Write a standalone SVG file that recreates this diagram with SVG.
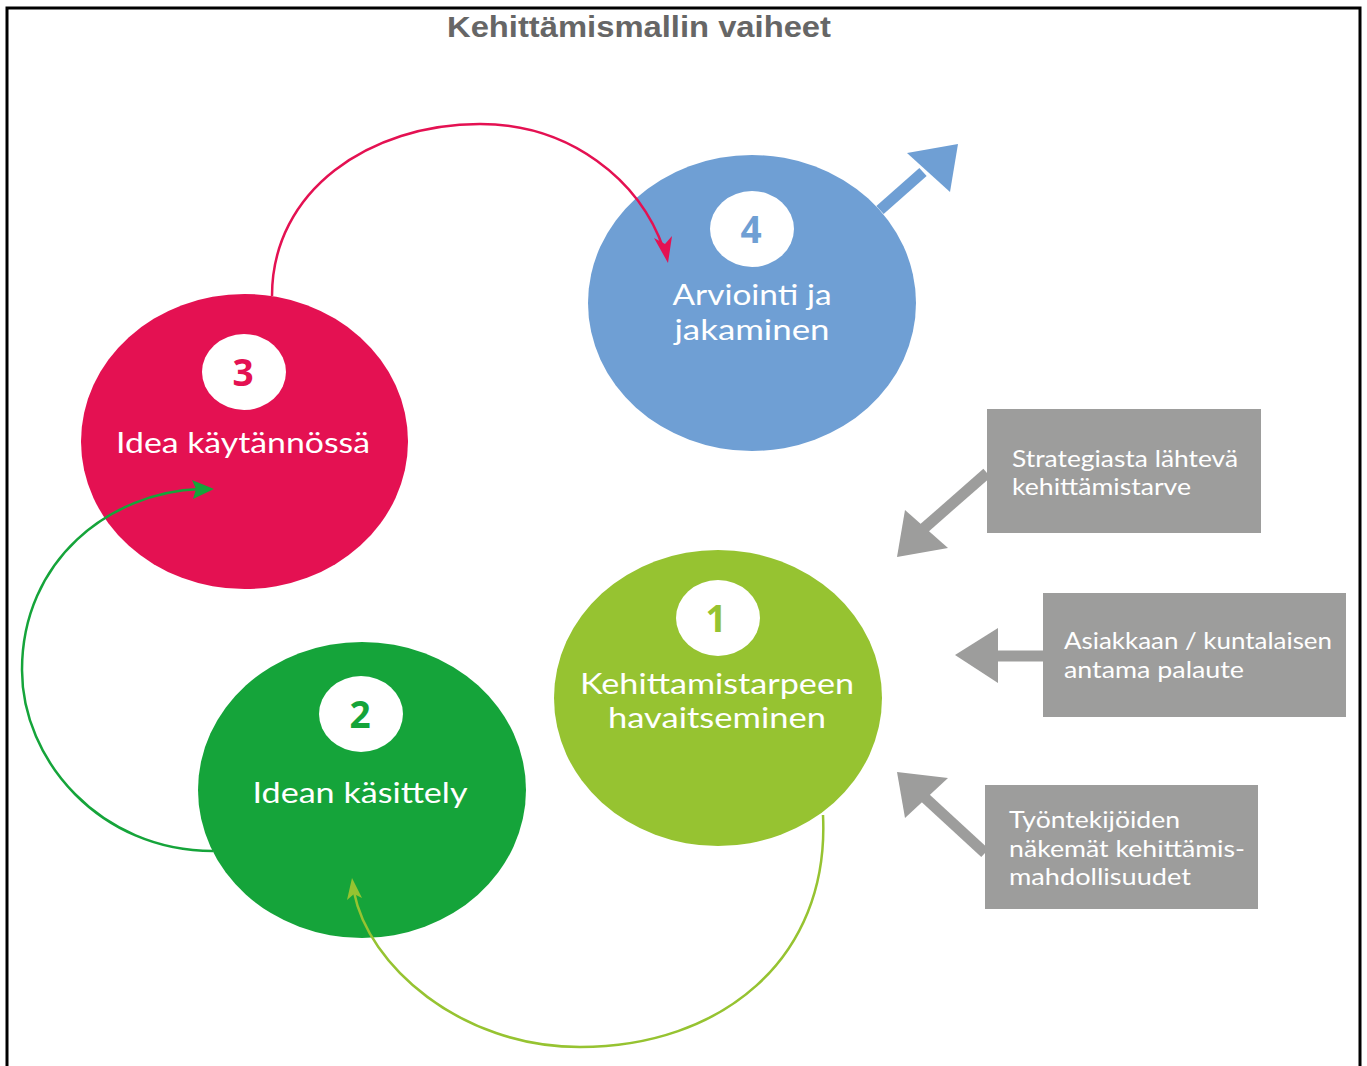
<svg xmlns="http://www.w3.org/2000/svg" width="1367" height="1066" viewBox="0 0 1367 1066">
<style>
.lbl{font-family:Lato,"Open Sans",sans-serif;font-size:29px;fill:#fff;text-anchor:middle}
.num{font-family:"Open Sans","Noto Sans",sans-serif;font-size:37px;font-weight:bold;text-anchor:middle}
.box{fill:#9d9d9c}
.btxt{font-family:Lato,"Open Sans",sans-serif;font-size:23px;fill:#fff}
.garrow{fill:#9d9d9c}
</style>
<rect x="0" y="0" width="1367" height="1066" fill="#fff"/>
<path d="M7,1066 V8 H1360 V1066" fill="none" stroke="#000" stroke-width="3"/>
<text x="639" y="37" font-family="Liberation Sans Narrow,Liberation Sans,sans-serif" font-size="30" font-weight="bold" fill="#666" text-anchor="middle" textLength="384" lengthAdjust="spacingAndGlyphs">Kehittämismallin vaiheet</text>

<g id="node4">
<ellipse cx="752" cy="303" rx="164" ry="148" fill="#6f9fd4"/>
<ellipse cx="752" cy="229" rx="42" ry="38" fill="#fff"/>
<text class="num" x="751" y="243" fill="#6f9fd4">4</text>
<text class="lbl" x="752" y="305" textLength="159" lengthAdjust="spacingAndGlyphs">Arviointi ja</text>
<text class="lbl" x="752" y="340" textLength="155" lengthAdjust="spacingAndGlyphs">jakaminen</text>
</g>
<g id="node3">
<ellipse cx="244.5" cy="441.5" rx="163.5" ry="147.5" fill="#e41152"/>
<ellipse cx="244" cy="372" rx="42" ry="38" fill="#fff"/>
<text class="num" x="243" y="386" fill="#e41152">3</text>
<text class="lbl" x="243" y="453" textLength="254" lengthAdjust="spacingAndGlyphs">Idea käytännössä</text>
</g>
<g id="node2">
<ellipse cx="362" cy="790" rx="164" ry="148" fill="#15a43a"/>
<ellipse cx="361" cy="714" rx="42" ry="38" fill="#fff"/>
<text class="num" x="360" y="728" fill="#15a43a">2</text>
<text class="lbl" x="360" y="803" textLength="215" lengthAdjust="spacingAndGlyphs">Idean käsittely</text>
</g>
<g id="node1">
<ellipse cx="718" cy="698" rx="164" ry="148" fill="#96c331"/>
<ellipse cx="718" cy="618" rx="42" ry="38" fill="#fff"/>
<text class="num" x="716" y="632" fill="#96c331">1</text>
<text class="lbl" x="717" y="694" textLength="274" lengthAdjust="spacingAndGlyphs">Kehittamistarpeen</text>
<text class="lbl" x="717" y="728" textLength="218" lengthAdjust="spacingAndGlyphs">havaitseminen</text>
</g>

<g id="box-strategia">
<rect class="box" x="987" y="409" width="274" height="124"/>
<text class="btxt" x="1012" y="467" textLength="226" lengthAdjust="spacingAndGlyphs">Strategiasta lähtevä</text>
<text class="btxt" x="1012" y="495" textLength="179" lengthAdjust="spacingAndGlyphs">kehittämistarve</text>
</g>
<g id="box-asiakas">
<rect class="box" x="1043" y="593" width="303" height="124"/>
<text class="btxt" x="1064" y="649" textLength="268" lengthAdjust="spacingAndGlyphs">Asiakkaan / kuntalaisen</text>
<text class="btxt" x="1064" y="678" textLength="180" lengthAdjust="spacingAndGlyphs">antama palaute</text>
</g>
<g id="box-tyontekijat">
<rect class="box" x="985" y="785" width="273" height="124"/>
<text class="btxt" x="1009" y="828" textLength="171" lengthAdjust="spacingAndGlyphs">Työntekijöiden</text>
<text class="btxt" x="1009" y="857" textLength="236" lengthAdjust="spacingAndGlyphs">näkemät kehittämis-</text>
<text class="btxt" x="1009" y="885" textLength="182" lengthAdjust="spacingAndGlyphs">mahdollisuudet</text>
</g>

<g id="connectors">
<path d="M272,296 C272,190 370,124 480,124 C570,124 640,180 664,250" fill="none" stroke="#e41152" stroke-width="2.5"/>
<path d="M668,263 L654,238 L665,244 L672,236 Z" fill="#e41152"/>
<path d="M213,851 C100,851 22,760 22,670 C22,560 110,492 200,489" fill="none" stroke="#15a43a" stroke-width="2.5"/>
<path d="M214,489 L192,480 L196,489 L193,499 Z" fill="#15a43a"/>
<path d="M823,815 C830,960 720,1047 580,1047 C460,1047 368,965 354,892" fill="none" stroke="#96c331" stroke-width="2.5"/>
<path d="M352,878 L347,900 L354,894 L362,898 Z" fill="#96c331"/>
<path d="M880,210 L923,172" stroke="#6f9fd4" stroke-width="11" fill="none"/>
<path d="M958,144 L907,153 L950,192 Z" fill="#6f9fd4"/>
<path d="M987,473 L922,530" stroke="#9d9d9c" stroke-width="11" fill="none"/>
<path d="M897,557 L905,510 L948,548 Z" class="garrow"/>
<path d="M1043,656 L992,656" stroke="#9d9d9c" stroke-width="11" fill="none"/>
<path d="M955,655 L998,628 L998,683 Z" class="garrow"/>
<path d="M985,853 L922,795" stroke="#9d9d9c" stroke-width="11" fill="none"/>
<path d="M897,772 L948,778 L905,818 Z" class="garrow"/>
</g>
</svg>
